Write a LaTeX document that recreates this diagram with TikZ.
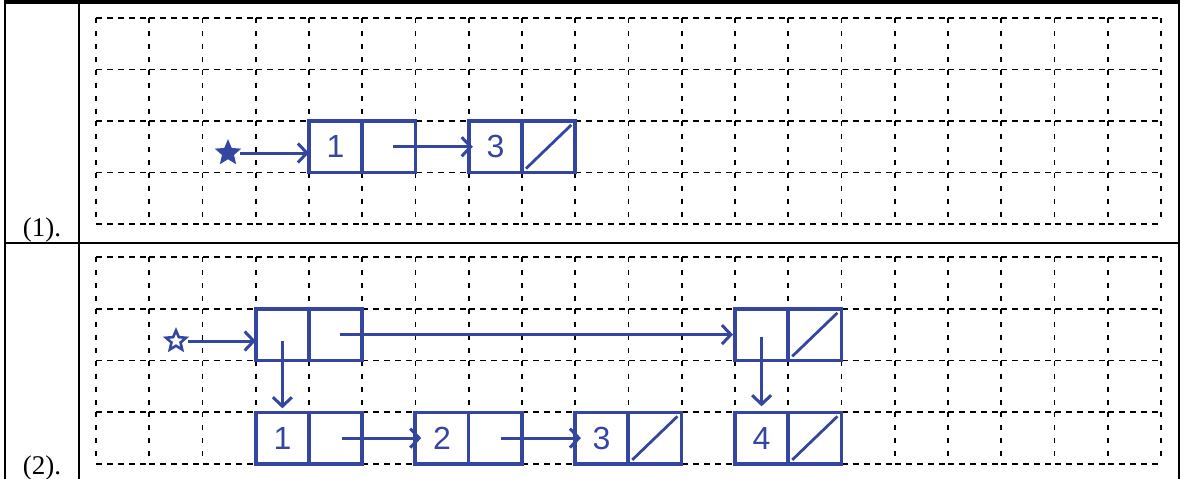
\documentclass[tikz,border=0pt]{standalone}
\usepackage{fontspec}
\setmainfont{Liberation Serif}
\newfontfamily\handfont{Liberation Sans}
\usetikzlibrary{arrows.meta,shapes.geometric}
\definecolor{hb}{RGB}{52,70,160}
\begin{document}
\begin{tikzpicture}[x=1pt,y=-1pt,
  hdash/.style={black,line width=1.9pt,dash pattern=on 6pt off 5pt},
  vdash/.style={black,line width=1.9pt,dash pattern=on 5pt off 8pt},
  frame/.style={black,line width=1.8pt},
  cell/.style={draw=hb,line width=3.6pt,minimum width=53.25pt,minimum height=51.6pt,inner sep=0pt,outer sep=0pt,
    font=\handfont\fontsize{32}{32}\selectfont,text=hb},
  link/.style={hb,line width=3pt,-{Straight Barb[length=9pt,width=19pt]}},
  nullslash/.style={hb,line width=2.8pt},
  startstar/.style={star,star points=5,star point ratio=2.2,minimum size=21pt,inner sep=0pt,draw=hb,line width=2.6pt},
  lbl/.style={font=\fontsize{27}{27}\selectfont,anchor=base}]
\useasboundingbox (0,0) rectangle (1184,479);
% outer table
\draw[frame] (5,0) -- (5,479);
\draw[frame] (79,0) -- (79,479);
\draw[frame] (1179,0) -- (1179,479);
\draw[black,line width=3.5pt] (5,2) -- (1179,2);
\draw[frame] (5,243) -- (1179,243);
\node[lbl] (l1) at (42,236) {(1).};
\node[lbl] (l2) at (42,474) {(2).};
% grids
\foreach \yz/\rh in {18/51.5,257/51.75}{
  \foreach \i in {0,...,19}{
    \foreach \j in {0,...,4}{
      \draw[hdash] ({96+53.25*\i},{\yz+\rh*\j}) -- ++(53.25,0);
    }
  }
  \foreach \i in {0,...,20}{
    \foreach \j in {0,...,3}{
      \draw[vdash] ({96+53.25*\i},{\yz+\rh*\j}) -- ++(0,\rh);
    }
  }
}
% panel 1
\node[cell] (a1) at (335.6,146.75) {1};
\node[cell,anchor=west] (a1p) at (a1.east) {};
\node[cell] (a3) at (495.4,146.75) {3};
\node[cell,anchor=west] (a3p) at (a3.east) {};
\draw[nullslash] ([shift={(4,-4)}]a3p.south west) -- ([shift={(-4,4)}]a3p.north east);
\node[startstar,fill=hb] (s1) at (228,153) {};
\draw[link,shorten <=4pt] (s1.east) -- (s1.east -| a1.west);
\draw[link] ([xshift=4pt]a1p.center) -- ([xshift=4pt]a1p.center -| a3.west);
% panel 2
\node[cell] (bA) at (282.4,334.6) {};
\node[cell,anchor=west] (bAp) at (bA.east) {};
\node[cell] (bB) at (761.6,334.6) {};
\node[cell,anchor=west] (bBp) at (bB.east) {};
\draw[nullslash] ([shift={(4,-4)}]bBp.south west) -- ([shift={(-4,4)}]bBp.north east);
\node[cell] (c1) at (282.4,438.1) {1};
\node[cell,anchor=west] (c1p) at (c1.east) {};
\node[cell] (c2) at (441.9,438.1) {2};
\node[cell,anchor=west] (c2p) at (c2.east) {};
\node[cell] (c3) at (601.6,438.1) {3};
\node[cell,anchor=west] (c3p) at (c3.east) {};
\draw[nullslash] ([shift={(4,-4)}]c3p.south west) -- ([shift={(-4,4)}]c3p.north east);
\node[cell] (c4) at (761.6,438.1) {4};
\node[cell,anchor=west] (c4p) at (c4.east) {};
\draw[nullslash] ([shift={(4,-4)}]c4p.south west) -- ([shift={(-4,4)}]c4p.north east);
\node[startstar] (s2) at (176,341) {};
\draw[link,shorten <=4pt] (s2.east) -- (s2.east -| bA.west);
\draw[link,shorten >=10pt] ([yshift=-6pt]bA.center) -- ([yshift=-6pt]bA.center |- c1.north);
\draw[link,shorten >=6pt] ([xshift=4pt]bAp.center) -- ([xshift=4pt]bAp.center -| bB.west);
\draw[link,shorten >=8pt] ([yshift=-2pt]bB.center) -- ([yshift=-2pt]bB.center |- c4.north);
\draw[link] ([xshift=6pt]c1p.center) -- ([xshift=6pt]c1p.center -| c2.west);
\draw[link] ([xshift=6pt]c2p.center) -- ([xshift=6pt]c2p.center -| c3.west);
\end{tikzpicture}
\end{document}
